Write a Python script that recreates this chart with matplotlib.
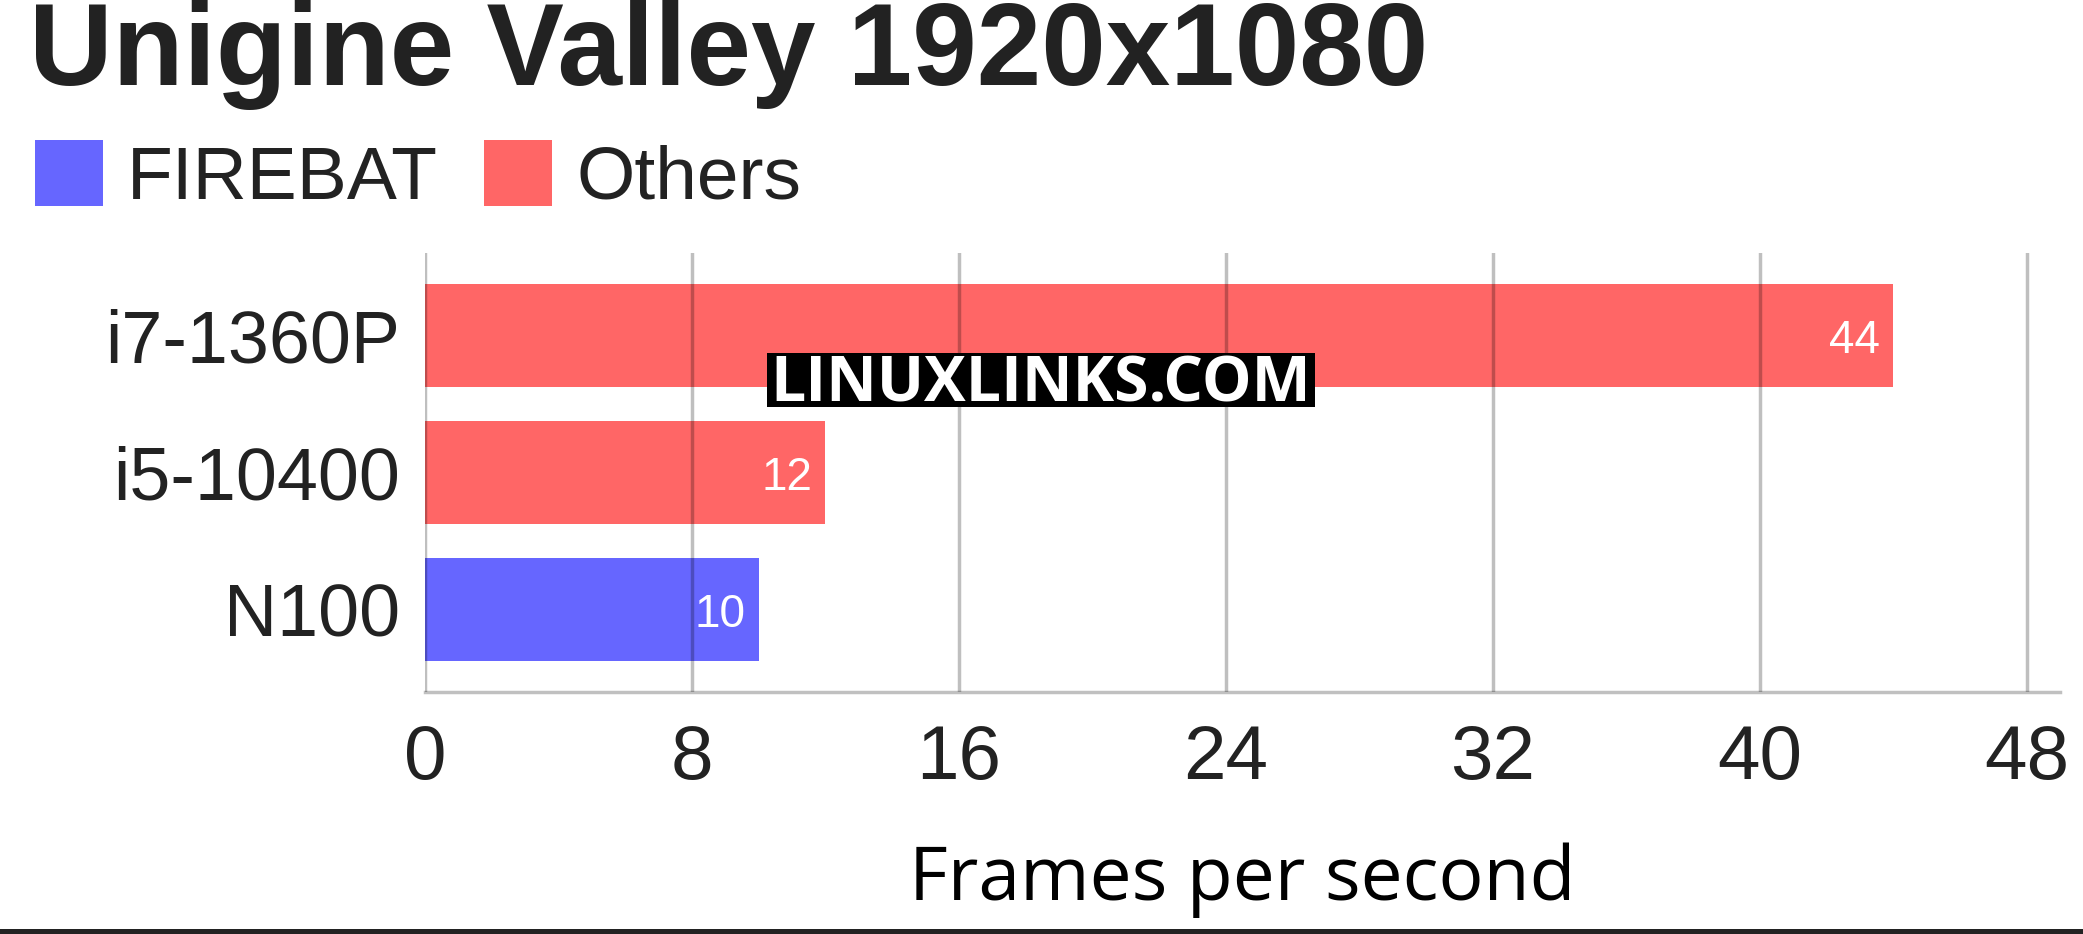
#!/usr/bin/env python3

"""Unigine Valley 1920x1080 horizontal bar chart"""

import matplotlib
matplotlib.use("Agg")
import matplotlib.pyplot as plt
from matplotlib.patches import Patch, Rectangle

# Data
cpus = ["i7-1360P", "i5-10400", "N100"]
fps = [44, 12, 10]
groups = ["Others", "Others", "FIREBAT"]
legend_names = ["FIREBAT", "Others"]
x_ticks = [0, 8, 16, 24, 32, 40, 48]

colors = {"FIREBAT": "#6666ff", "Others": "#ff6666"}
txt_col = "#222222"

plt.rcParams["font.family"] = ["Liberation Sans", "DejaVu Sans"]

W, H = 2083, 934
fig = plt.figure(figsize=(W / 100, H / 100), dpi=100)
ax = fig.add_axes([425 / W, 1 - 692 / H, (2060 - 425) / W, (692 - 253) / H])

# Bars
ypos = list(range(len(cpus)))
ax.barh(ypos, fps, height=0.75, color=[colors[g] for g in groups], zorder=1)
for y, v in zip(ypos, fps):
    ax.annotate(str(v), (v, y), xytext=(-9.5, -4), textcoords="offset points",
                ha="right", va="center", color="white", fontsize=33, zorder=3)

ax.set_xlim(0, 49)
ax.set_ylim(2.602, -0.602)
ax.set_xticks(x_ticks)
ax.set_yticks(ypos)
ax.set_yticklabels(cpus)

# Grid on top of bars, semi transparent so it looks darker through them
ax.set_axisbelow(False)
ax.grid(axis="x", color="black", alpha=0.25, lw=2.5, zorder=2)
ax.grid(axis="y", visible=False)
for s in ["top", "right", "left"]:
    ax.spines[s].set_visible(False)
ax.spines["bottom"].set_color("#c0c0c0")
ax.spines["bottom"].set_linewidth(2.5)
ax.spines["bottom"].set_zorder(2)

ax.tick_params(axis="x", length=0, pad=23, labelsize=55, labelcolor=txt_col)
ax.tick_params(axis="y", length=0, pad=18, labelsize=53, labelcolor=txt_col)

ax.set_xlabel("Frames per second", family="Open Sans", fontsize=54,
              color="black", labelpad=34)

# Title
fig.text(29 / W, 1 - 85 / H, "Unigine Valley 1920x1080", fontsize=83.5,
         fontweight="bold", color=txt_col, ha="left", va="baseline")

# Legend
handles = [Patch(facecolor=colors[n], edgecolor="none", label=n) for n in legend_names]
fig.legend(handles=handles, loc="upper left", bbox_to_anchor=(35 / W, 1 - 140 / H),
           ncol=2, frameon=False, fontsize=54, handlelength=0.9, handleheight=0.97,
           handletextpad=0.33, columnspacing=0.61, borderpad=0, borderaxespad=0,
           labelcolor=txt_col)

# Watermark
fig.add_artist(Rectangle((767 / W, 1 - 407 / H), 548 / W, 54 / H,
                         transform=fig.transFigure, facecolor="black",
                         edgecolor="none", zorder=5))
fig.text(1041 / W, 1 - 402 / H, "LINUXLINKS.COM", family="Open Sans",
         fontweight="bold", fontsize=45, color="white", ha="center",
         va="baseline", zorder=6)

# Bottom rule
fig.add_artist(Rectangle((0, 0), 1, 5 / H, transform=fig.transFigure,
                         facecolor="#222222", edgecolor="none"))

fig.savefig("out.png", dpi=100)
